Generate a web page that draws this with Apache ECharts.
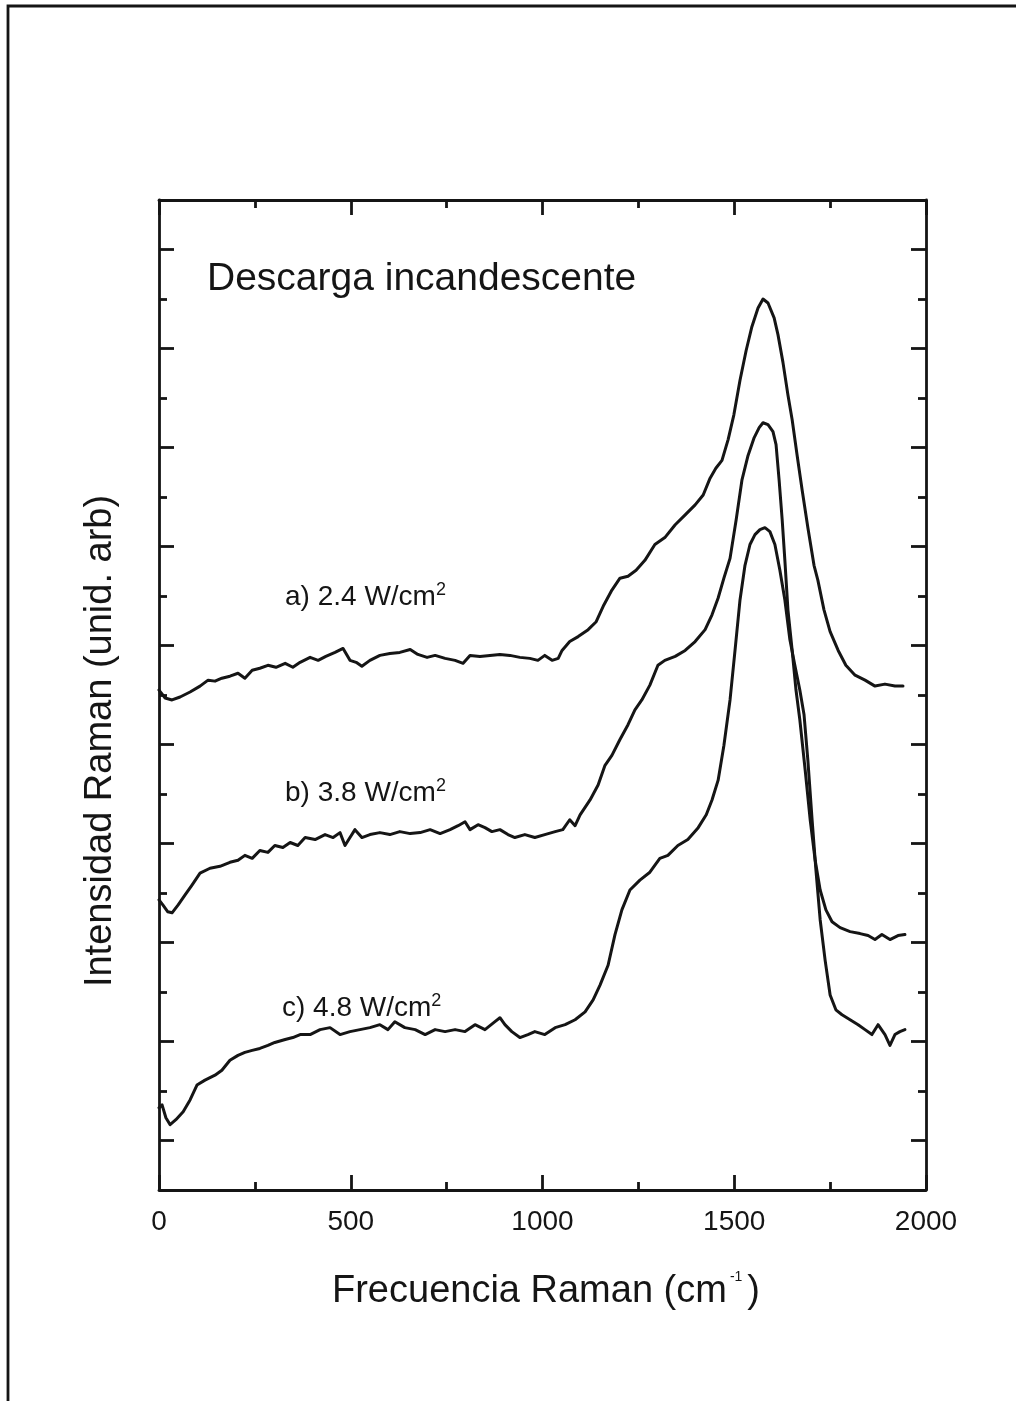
<!DOCTYPE html>
<html>
<head>
<meta charset="utf-8">
<script src="https://cdn.jsdelivr.net/npm/echarts@6/dist/echarts.min.js"></script>
<style>
  html, body { margin: 0; padding: 0; background: #fff; }
  #chart { width: 1016px; height: 1401px; }
</style>
</head>
<body>
<div id="chart"></div>
<script>
// Raman spectra of glow-discharge films at three power densities.
// Shift in cm^-1, intensity in arbitrary units (traces offset vertically).
const shiftA = [0,16,34,55,81,107,128,146,164,185,206,224,243,263,284,305,329,349,368,394,415,435,459,480,498,514,529,550,576,602,628,655,675,699,720,746,772,793,811,837,863,889,915,941,967,988,1006,1025,1041,1051,1071,1093,1119,1140,1160,1181,1202,1223,1244,1267,1293,1319,1346,1372,1398,1419,1437,1452,1468,1484,1499,1515,1531,1546,1562,1575,1588,1604,1614,1627,1640,1651,1664,1677,1692,1708,1718,1734,1750,1771,1791,1815,1841,1867,1893,1919,1940];
const ramanA = [5.05,4.97,4.95,4.98,5.03,5.09,5.15,5.14,5.17,5.19,5.22,5.17,5.25,5.27,5.30,5.28,5.32,5.28,5.33,5.38,5.35,5.39,5.43,5.47,5.35,5.33,5.29,5.35,5.40,5.42,5.43,5.46,5.41,5.38,5.40,5.37,5.35,5.32,5.40,5.39,5.40,5.41,5.40,5.38,5.37,5.35,5.40,5.35,5.37,5.45,5.54,5.59,5.66,5.74,5.91,6.06,6.18,6.20,6.26,6.36,6.52,6.59,6.72,6.82,6.92,7.02,7.19,7.29,7.37,7.58,7.83,8.18,8.48,8.72,8.91,9.00,8.96,8.81,8.64,8.36,8.03,7.78,7.42,7.07,6.69,6.31,6.16,5.86,5.64,5.45,5.30,5.20,5.15,5.09,5.11,5.09,5.09];

const shiftB = [0,10,23,34,50,68,86,107,133,159,185,206,224,243,263,284,302,323,342,362,381,407,433,454,472,485,498,511,529,550,576,602,628,655,681,707,733,759,780,798,811,832,850,868,889,910,928,954,980,1006,1033,1053,1071,1085,1098,1124,1145,1163,1181,1202,1223,1241,1259,1280,1301,1319,1346,1372,1398,1424,1442,1458,1473,1489,1505,1520,1536,1552,1565,1575,1588,1601,1609,1617,1625,1632,1640,1651,1661,1671,1685,1698,1711,1724,1739,1755,1776,1802,1828,1849,1867,1885,1906,1927,1945];
const ramanB = [2.93,2.88,2.81,2.80,2.88,2.98,3.08,3.20,3.25,3.27,3.31,3.33,3.38,3.35,3.43,3.41,3.48,3.46,3.51,3.48,3.56,3.54,3.59,3.56,3.61,3.48,3.56,3.64,3.56,3.59,3.61,3.59,3.62,3.60,3.61,3.64,3.60,3.64,3.68,3.72,3.64,3.69,3.66,3.62,3.64,3.59,3.56,3.59,3.56,3.59,3.62,3.64,3.74,3.68,3.79,3.94,4.09,4.29,4.39,4.55,4.70,4.85,4.95,5.10,5.30,5.35,5.39,5.45,5.54,5.66,5.81,5.98,6.18,6.38,6.77,7.17,7.42,7.60,7.70,7.75,7.73,7.66,7.53,7.17,6.77,6.36,5.86,5.45,5.05,4.75,4.24,3.74,3.33,3.03,2.83,2.71,2.65,2.61,2.59,2.57,2.53,2.58,2.53,2.57,2.58];

const shiftC = [0,8,18,29,44,63,81,99,120,146,164,185,206,224,243,263,284,302,329,349,368,394,420,446,472,498,524,550,576,597,615,641,668,694,720,746,772,798,824,850,876,889,902,920,941,962,980,1006,1033,1059,1085,1111,1132,1150,1171,1189,1207,1228,1254,1280,1306,1327,1353,1379,1406,1427,1442,1458,1473,1489,1502,1515,1528,1541,1554,1567,1580,1593,1606,1619,1632,1645,1658,1671,1682,1692,1703,1713,1724,1737,1750,1765,1781,1802,1823,1841,1859,1875,1893,1906,1919,1932,1945];
const ramanC = [0.83,0.86,0.73,0.66,0.71,0.79,0.91,1.06,1.11,1.16,1.21,1.31,1.36,1.39,1.41,1.43,1.46,1.49,1.52,1.54,1.57,1.57,1.62,1.64,1.57,1.60,1.62,1.64,1.67,1.62,1.70,1.64,1.62,1.57,1.62,1.60,1.62,1.60,1.67,1.62,1.70,1.74,1.67,1.60,1.54,1.57,1.60,1.57,1.64,1.67,1.72,1.80,1.92,2.07,2.27,2.58,2.83,3.03,3.13,3.21,3.35,3.38,3.48,3.54,3.66,3.79,3.94,4.14,4.49,4.95,5.45,5.96,6.31,6.52,6.62,6.67,6.69,6.65,6.52,6.26,5.96,5.56,5.30,5.05,4.80,4.34,3.74,3.23,2.73,2.32,1.97,1.82,1.77,1.72,1.67,1.62,1.57,1.67,1.57,1.46,1.57,1.60,1.62];

const xTicks = [0, 500, 1000, 1500, 2000];
const traceLabels = ['a) 2.4 W/cm', 'b) 3.8 W/cm', 'c) 4.8 W/cm'];

const FONT = '"Liberation Sans", Arial, Helvetica, sans-serif';
const INK = '#151515';

const pairs = (xs, ys) => xs.map((x, i) => [x, ys[i]]);

const axisLineStyle = { color: INK, width: 2.8 };

function xAxisDef(position, labels) {
  return {
    type: 'value', position: position,
    min: xTicks[0], max: xTicks[xTicks.length - 1], interval: xTicks[1] - xTicks[0],
    axisLine: { show: true, onZero: false, lineStyle: axisLineStyle },
    axisTick: { show: true, inside: true, length: 15, lineStyle: axisLineStyle },
    minorTick: { show: true, splitNumber: 2, length: 8, lineStyle: axisLineStyle },
    splitLine: { show: false },
    axisLabel: { show: labels, fontSize: 28, fontFamily: FONT, color: INK, margin: 18,
                 formatter: (v) => String(v) }
  };
}

function yAxisDef(position) {
  return {
    type: 'value', position: position,
    min: 0, max: 10, interval: 1,
    axisLine: { show: true, onZero: false, lineStyle: axisLineStyle },
    axisTick: { show: true, inside: true, length: 8, lineStyle: axisLineStyle },
    minorTick: { show: true, splitNumber: 2, length: 15, lineStyle: axisLineStyle },
    splitLine: { show: false },
    axisLabel: { show: false }
  };
}

function lineSeries(name, xs, ys) {
  return {
    name: name, type: 'line', xAxisIndex: 0, yAxisIndex: 0,
    data: pairs(xs, ys),
    symbol: 'none', showSymbol: false, smooth: false,
    lineStyle: { color: INK, width: 3, join: 'round', cap: 'round' },
    silent: true
  };
}

function supLabel(text, x, y) {
  return {
    type: 'text', x: x, y: y, z: 10,
    style: {
      text: text + '{sup|2}',
      fontSize: 28, fontFamily: FONT, fill: INK,
      align: 'left', verticalAlign: 'middle', lineHeight: 32,
      rich: { sup: { fontSize: 18, fontFamily: FONT, fill: INK, lineHeight: 18, verticalAlign: 'top' } }
    }
  };
}

const chart = echarts.init(document.getElementById('chart'), null, { renderer: 'canvas' });
chart.setOption({
  animation: false,
  backgroundColor: '#ffffff',
  grid: { left: 159, top: 200, width: 767, height: 990, containLabel: false },
  xAxis: [xAxisDef('bottom', true), xAxisDef('top', false)],
  yAxis: [yAxisDef('left'), yAxisDef('right')],
  series: [
    lineSeries('a', shiftA, ramanA),
    lineSeries('b', shiftB, ramanB),
    lineSeries('c', shiftC, ramanC)
  ],
  graphic: [
    // page frame; its right and bottom edges run off the page
    { type: 'rect', shape: { x: 8, y: 6, width: 1012, height: 1420 },
      style: { fill: 'none', stroke: INK, lineWidth: 2.8 }, silent: true },
    { type: 'text', x: 207, y: 279,
      style: { text: 'Descarga incandescente', fontSize: 39, fontFamily: FONT, fill: INK,
               align: 'left', verticalAlign: 'middle' } },
    supLabel(traceLabels[0], 285, 597),
    supLabel(traceLabels[1], 285, 793),
    supLabel(traceLabels[2], 282, 1008),
    { type: 'text', x: 546, y: 1292,
      style: {
        text: 'Frecuencia Raman (cm{sup|-1}{par|)}',
        fontSize: 38, fontFamily: FONT, fill: INK, lineHeight: 44,
        align: 'center', verticalAlign: 'middle',
        rich: {
          sup: { fontSize: 14, fontFamily: FONT, fill: INK, lineHeight: 14, verticalAlign: 'top', padding: [0, 5, 0, 3] },
          par: { fontSize: 38, fontFamily: FONT, fill: INK, lineHeight: 44 }
        }
      } },
    { type: 'text', x: 101, y: 741, rotation: Math.PI / 2,
      style: { text: 'Intensidad Raman (unid. arb)', fontSize: 38, fontFamily: FONT, fill: INK,
               align: 'center', verticalAlign: 'middle' } }
  ]
});
</script>
</body>
</html>
